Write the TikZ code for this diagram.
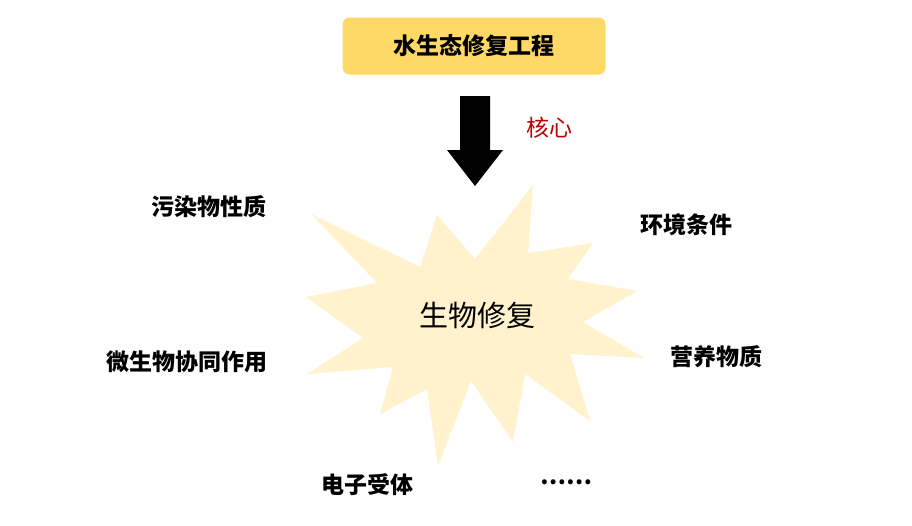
\documentclass[tikz,border=0pt]{standalone}
\usepackage{fontspec}
\setmainfont{Noto Sans CJK SC}
\begin{document}
\begin{tikzpicture}[x=1pt,y=-1pt,
  lab/.style={font=\bfseries\fontsize{23}{26}\selectfont,inner sep=0pt}]
\useasboundingbox (0,0) rectangle (912,525);
\fill[white] (0,0) rectangle (912,525);
\node[fill={rgb,255:red,255;green,217;blue,102},rounded corners=7pt,minimum width=263pt,minimum height=57pt,font=\bfseries\fontsize{23}{26}\selectfont] (top) at (474,46) {水生态修复工程};
\fill[fill={rgb,255:red,255;green,242;blue,204}] (311,214)--(377,283)--(306,297)--(363,338)--(307,374)--(393,367)--(380,414)--(427,389)--(438,466)--(471,381)--(513,442)--(525,374)--(590,421)--(570,354)--(644,358)--(583,322)--(637,291)--(568,279)--(593,243)--(528,253)--(533,185)--(475,259)--(437,215)--(420,267)--cycle;
\node[inner sep=0pt,font=\fontsize{29}{32}\selectfont] (bio) at (477,315) {生物修复};
\coordinate (tip) at (475,186);
\fill[black] (460,96)--(490,96)--(490,150)--(503,150)--(tip)--(447,150)--(460,150)--cycle;
\node[inner sep=0pt,text={rgb,255:red,192;green,0;blue,0},font=\fontsize{23}{26}\selectfont] (core) at (549,128) {核心};
\node[lab] (a) at (209,207) {污染物性质};
\node[lab] (b) at (686,225) {环境条件};
\node[lab] (c) at (716,357) {营养物质};
\node[lab] (d) at (187,362) {微生物协同作用};
\node[lab] (e) at (367,485) {电子受体};
\node[lab] (f) at (566,482) {……};
\end{tikzpicture}
\end{document}
